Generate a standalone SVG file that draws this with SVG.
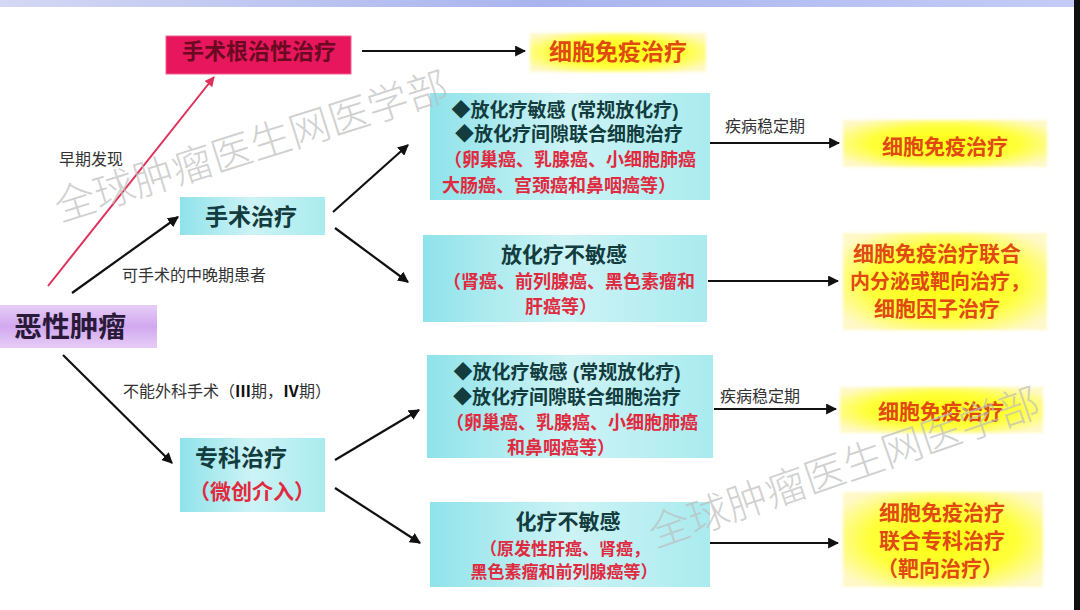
<svg xmlns="http://www.w3.org/2000/svg" width="1080" height="610" viewBox="0 0 1080 610">
<defs>
<linearGradient id="topband" x1="0" y1="0" x2="1" y2="0">
<stop offset="0" stop-color="#d4d8f4"/><stop offset="0.5" stop-color="#a9b4ee"/><stop offset="1" stop-color="#c4ccf6"/>
</linearGradient>
<linearGradient id="cyan" x1="0" y1="0" x2="1" y2="0">
<stop offset="0" stop-color="#8fe3ea"/><stop offset="0.5" stop-color="#cdf3f5"/><stop offset="1" stop-color="#a9ebef"/>
</linearGradient>
<radialGradient id="yellow" cx="0.5" cy="0.5" r="0.62">
<stop offset="0" stop-color="#ffff10"/><stop offset="0.6" stop-color="#ffff3a"/><stop offset="1" stop-color="#fff8c8"/>
</radialGradient>
<linearGradient id="purple" x1="0" y1="0" x2="0" y2="1">
<stop offset="0" stop-color="#e6cdf6"/><stop offset="0.5" stop-color="#d2a8f0"/><stop offset="1" stop-color="#e6cdf6"/>
</linearGradient>
<filter id="soft" x="-5%" y="-10%" width="110%" height="120%"><feGaussianBlur stdDeviation="1.5"/></filter>
<marker id="ah" viewBox="0 0 10 10" refX="9" refY="5" markerWidth="5" markerHeight="5" orient="auto" markerUnits="strokeWidth">
<path d="M0,0 L10,5 L0,10 z" fill="#111"/>
</marker>
<marker id="ahp" viewBox="0 0 10 10" refX="9" refY="5" markerWidth="5" markerHeight="5" orient="auto" markerUnits="strokeWidth">
<path d="M0,0 L10,5 L0,10 z" fill="#e0305a"/>
</marker>
</defs>
<style>
text{font-family:"Liberation Sans","Noto Sans CJK SC",sans-serif;}
.c{text-anchor:middle;}
.teal{fill:#123c3e;font-weight:bold;}
.red{fill:#e02a40;font-weight:bold;}
.org{fill:#e04a12;font-weight:bold;}
.lbl{fill:#333;font-size:16px;}
.ln{stroke:#111;stroke-width:2.2;fill:none;marker-end:url(#ah);}
.wm{fill:#bdbdbd;fill-opacity:0.7;font-size:41px;font-weight:300;}
</style>
<rect x="0" y="0" width="1080" height="610" fill="#ffffff"/>
<rect x="0" y="0" width="1080" height="7" fill="url(#topband)"/>
<rect x="1074" y="0" width="6" height="610" fill="#111"/>

<g id="n-radical">
<rect x="166" y="36" width="185" height="38" fill="#e8175d" stroke="#f06090" stroke-width="1"/>
<text x="259" y="59" class="c" font-size="22" font-weight="bold" fill="#6a0a22">手术根治性治疗</text>
</g>
<g id="n-immune-top">
<rect x="530" y="33" width="176" height="39" fill="url(#yellow)" filter="url(#soft)"/>
<text x="618" y="60" class="c org" font-size="23">细胞免疫治疗</text>
</g>
<g id="n-tumor">
<rect x="0" y="305" width="157" height="43" fill="url(#purple)"/>
<text x="70" y="337" class="c" font-size="28" font-weight="bold" fill="#2a1a3a">恶性肿瘤</text>
</g>
<g id="n-surgery">
<rect x="180" y="197" width="145" height="38" fill="url(#cyan)"/>
<text x="251" y="225" class="c teal" font-size="23">手术治疗</text>
</g>
<g id="n-special">
<rect x="180" y="438" width="145" height="74" fill="url(#cyan)"/>
<text x="241" y="466" class="c teal" font-size="23">专科治疗</text>
<text x="252" y="499" class="c red" font-size="21">（微创介入）</text>
</g>
<g id="n-a">
<rect x="430" y="93" width="280" height="107" fill="url(#cyan)"/>
<text x="565" y="117" class="c teal" font-size="19">◆放化疗敏感 (常规放化疗)</text>
<text x="569" y="141" class="c teal" font-size="19">◆放化疗间隙联合细胞治疗</text>
<text x="570" y="166" class="c red" font-size="18">（卵巢癌、乳腺癌、小细胞肺癌</text>
<text x="559" y="192" class="c red" font-size="18">大肠癌、宫颈癌和鼻咽癌等）</text>
</g>
<g id="n-b">
<rect x="423" y="235" width="284" height="87" fill="url(#cyan)"/>
<text x="564" y="262" class="c teal" font-size="21">放化疗不敏感</text>
<text x="569" y="288" class="c red" font-size="18">（肾癌、前列腺癌、黑色素瘤和</text>
<text x="561" y="313" class="c red" font-size="18">肝癌等）</text>
</g>
<g id="n-c">
<rect x="427" y="355" width="286" height="103" fill="url(#cyan)"/>
<text x="567" y="379" class="c teal" font-size="19">◆放化疗敏感 (常规放化疗)</text>
<text x="567" y="404" class="c teal" font-size="19">◆放化疗间隙联合细胞治疗</text>
<text x="572" y="429" class="c red" font-size="18">（卵巢癌、乳腺癌、小细胞肺癌</text>
<text x="561" y="454" class="c red" font-size="18">和鼻咽癌等）</text>
</g>
<g id="n-d">
<rect x="430" y="502" width="280" height="85" fill="url(#cyan)"/>
<text x="568" y="529" class="c teal" font-size="21">化疗不敏感</text>
<text x="565" y="555" class="c red" font-size="17">（原发性肝癌、肾癌，</text>
<text x="564" y="578" class="c red" font-size="17">黑色素瘤和前列腺癌等）</text>
</g>
<g id="n-r1">
<rect x="843" y="120" width="204" height="47" fill="url(#yellow)" filter="url(#soft)"/>
<text x="945" y="154" class="c org" font-size="21">细胞免疫治疗</text>
</g>
<g id="n-r2">
<rect x="843" y="233" width="204" height="97" fill="url(#yellow)" filter="url(#soft)"/>
<text x="937" y="261" class="c org" font-size="21">细胞免疫治疗联合</text>
<text x="940" y="289" class="c org" font-size="20">内分泌或靶向治疗，</text>
<text x="937" y="316" class="c org" font-size="21">细胞因子治疗</text>
</g>
<g id="n-r3">
<rect x="840" y="387" width="203" height="46" fill="url(#yellow)" filter="url(#soft)"/>
<text x="941" y="419" class="c org" font-size="21">细胞免疫治疗</text>
</g>
<g id="n-r4">
<rect x="843" y="492" width="200" height="95" fill="url(#yellow)" filter="url(#soft)"/>
<text x="942" y="520" class="c org" font-size="21">细胞免疫治疗</text>
<text x="942" y="548" class="c org" font-size="21">联合专科治疗</text>
<text x="940" y="576" class="c org" font-size="21">（靶向治疗）</text>
</g>

<g id="connectors">
<line x1="362" y1="51" x2="525" y2="51" class="ln"/>
<line x1="48" y1="286" x2="214" y2="77" stroke="#e0305a" stroke-width="2" marker-end="url(#ahp)"/>
<line x1="72" y1="293" x2="178" y2="217" class="ln"/>
<line x1="63" y1="355" x2="172" y2="463" class="ln"/>
<line x1="333" y1="212" x2="408" y2="145" class="ln"/>
<line x1="335" y1="228" x2="408" y2="282" class="ln"/>
<line x1="335" y1="460" x2="419" y2="410" class="ln"/>
<line x1="335" y1="488" x2="420" y2="543" class="ln"/>
<line x1="710" y1="143" x2="839" y2="143" class="ln"/>
<line x1="708" y1="281" x2="838" y2="281" class="ln"/>
<line x1="714" y1="409" x2="836" y2="409" class="ln"/>
<line x1="710" y1="543" x2="838" y2="543" class="ln"/>
<text x="91" y="165" class="c lbl">早期发现</text>
<text x="194" y="281" class="c lbl">可手术的中晚期患者</text>
<text x="227" y="397" class="c lbl">不能外科手术（<tspan font-weight="bold" fill="#111">Ⅲ</tspan>期，<tspan font-weight="bold" fill="#111">Ⅳ</tspan>期）</text>
<text x="765" y="132" class="c lbl" font-size="15">疾病稳定期</text>
<text x="760" y="402" class="c lbl" font-size="15">疾病稳定期</text>
</g>

<g id="watermarks">
<text transform="translate(60,222) rotate(-17.5)" class="wm">全球肿瘤医生网医学部</text>
<text transform="translate(655,548) rotate(-19)" class="wm">全球肿瘤医生网医学部</text>
</g>
</svg>
